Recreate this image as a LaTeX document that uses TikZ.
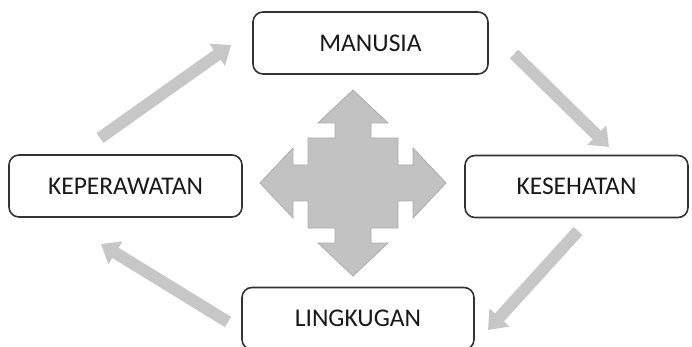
\documentclass[tikz,border=0pt]{standalone}
\usepackage{fontspec}
\setmainfont{Carlito}
\usepackage{xcolor}
\usetikzlibrary{arrows.meta,positioning}

\begin{document}
\begin{tikzpicture}[x=1pt,y=-1pt,
	konsep/.style={draw=black!80,line width=1.6pt,rounded corners=10pt,fill=white,minimum height=62pt,inner sep=0pt,font=\fontsize{25.5}{29}\selectfont,text=black!90},
	siklus/.style={line width=12pt,draw=black!22,-{Triangle[length=17pt,width=26pt]}},
	pusat/.style={fill=black!24,draw=black!32,line width=0.8pt}]
	\useasboundingbox (0,0) rectangle (692,347);
	\node[konsep,minimum width=235pt] (manusia) at (370.5,43) {MANUSIA};
	\node[konsep,minimum width=233pt] (keperawatan) at (125.5,186) {KEPERAWATAN};
	\node[konsep,minimum width=223pt] (kesehatan) at (576.5,186.5) {KESEHATAN};
	\node[konsep,minimum width=232pt] (lingkungan) at (358,318.5) {LINGKUGAN};
	\coordinate (c) at (353,183);
	\coordinate (a1) at (100,138);
	\coordinate (b1) at (231,45);
	\coordinate (a2) at (514,54);
	\coordinate (b2) at (609,147);
	\coordinate (a3) at (578,231);
	\coordinate (b3) at (488,330);
	\coordinate (a4) at (228,322);
	\coordinate (b4) at (101,244);

	\draw[siklus] (a1) -- (b1);
	\draw[siklus] (a2) -- (b2);
	\draw[siklus] (a3) -- (b3);
	\draw[siklus] (a4) -- (b4);

	\begin{scope}[shift={(c)}]
		\draw[pusat] (0,-93) -- (35,-60) -- (18,-60) -- (18,-45) -- (45,-45) -- (45,-18) -- (60,-18) -- (60,-35)
			-- (93,0) -- (60,35) -- (60,18) -- (45,18) -- (45,45) -- (18,45) -- (18,60) -- (35,60)
			-- (0,93) -- (-35,60) -- (-18,60) -- (-18,45) -- (-45,45) -- (-45,18) -- (-60,18) -- (-60,35)
			-- (-93,0) -- (-60,-35) -- (-60,-18) -- (-45,-18) -- (-45,-45) -- (-18,-45) -- (-18,-60) -- (-35,-60) -- cycle;
	\end{scope}
\end{tikzpicture}
\end{document}
